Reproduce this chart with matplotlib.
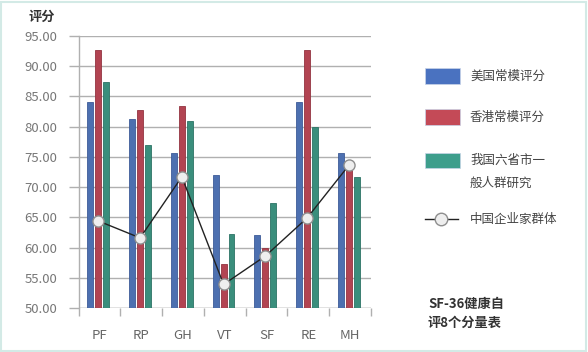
import matplotlib
matplotlib.use("Agg")
import matplotlib.pyplot as plt
from matplotlib.patches import Rectangle
from matplotlib.lines import Line2D
import numpy as np

plt.rcParams['font.family'] = ['Noto Sans CJK SC', 'DejaVu Sans']

categories = ["PF", "RP", "GH", "VT", "SF", "RE", "MH"]
us_norm = [84.0, 81.2, 75.6, 72.0, 62.0, 84.0, 75.6]
hk_norm = [92.7, 82.8, 83.4, 57.2, 59.9, 92.7, 73.6]
cn_six = [87.4, 77.0, 81.0, 62.3, 67.4, 80.0, 71.6]
entrepreneurs = [64.4, 61.6, 71.7, 53.9, 58.6, 64.9, 73.6]
yticks = [50, 55, 60, 65, 70, 75, 80, 85, 90, 95]

series_names = ["美国常模评分", "香港常模评分", "我国六省市一\n般人群研究", "中国企业家群体"]
bar_colors = ["#4d70b0", "#b24452", "#3a8e7c"]
bar_edges = ["#3d5c98", "#933440", "#2c7365"]
legend_colors = ["#4a72c0", "#c44a57", "#3d9e8c"]

W, H = 588, 352
fig = plt.figure(figsize=(W / 100, H / 100), dpi=100)
fig.patch.set_facecolor("white")

x0, x1, yb, yt = 78.7, 371, 308, 36
ax = fig.add_axes([x0 / W, 1 - yb / H, (x1 - x0) / W, (yb - yt) / H])
ax.set_facecolor("white")

x = np.arange(len(categories))
shift = -0.03
bw = 0.14
off = 0.19
for i, vals in enumerate([us_norm, hk_norm, cn_six]):
    ax.bar(x + shift + (i - 1) * off, np.array(vals) - 50, bottom=50, width=bw,
           color=bar_colors[i], edgecolor=bar_edges[i], linewidth=0.6, zorder=3)

ax.plot(x + shift, entrepreneurs, color="#222222", linewidth=1.0, zorder=4,
        marker="o", markersize=8, markerfacecolor="#eeeeee",
        markeredgecolor="#8e8e8e", markeredgewidth=1.0)

ax.set_xlim(-0.5, len(categories) - 0.5)
ax.set_ylim(50, 95)
ax.set_yticks(yticks)
ax.set_yticklabels([f"{v:.2f}" for v in yticks])
ax.set_xticks(x)
ax.set_xticklabels(categories)
ax.set_xticks(np.arange(len(categories) + 1) - 0.5, minor=True)

ax.grid(axis="y", color="#b0b0b0", linewidth=1.0, zorder=0)
for s in ["top", "right", "bottom"]:
    ax.spines[s].set_visible(False)
ax.spines["left"].set_color("#b0b0b0")
ax.spines["left"].set_linewidth(1.0)

ax.tick_params(axis="y", length=7, color="#b0b0b0", width=1.0, pad=8.5,
               labelsize=9.5, labelcolor="#777777")
ax.tick_params(axis="x", which="major", length=0, pad=15,
               labelsize=9.5, labelcolor="#666666")
ax.tick_params(axis="x", which="minor", length=6, color="#b0b0b0", width=1.0)
ax.axhline(50, color="#b0b0b0", linewidth=1.0, zorder=1)

fig.text(42 / W, 1 - 17 / H, "评分", fontsize=9.5, fontweight="bold",
         color="#333333", ha="center", va="center")

# legend
lx0, lx1 = 425, 460
patch_y = [76, 117, 160.5]
for i in range(3):
    fig.patches.append(Rectangle((lx0 / W, 1 - (patch_y[i] + 7.8) / H),
                                 (lx1 - lx0) / W, 15.6 / H,
                                 transform=fig.transFigure,
                                 facecolor=legend_colors[i], edgecolor="#c8d4e8",
                                 linewidth=0.5))
fig.text(470 / W, 1 - 76 / H, series_names[0], fontsize=9, color="#444444", va="center")
fig.text(470 / W, 1 - 117 / H, series_names[1], fontsize=9, color="#444444", va="center")
fig.text(470 / W, 1 - 160 / H, series_names[2].split("\n")[0], fontsize=9, color="#444444", va="center")
fig.text(470 / W, 1 - 183 / H, series_names[2].split("\n")[1], fontsize=9, color="#444444", va="center")
fig.lines.append(Line2D([lx0 / W, 458 / W], [1 - 219 / H, 1 - 219 / H],
                        transform=fig.transFigure, color="#222222", linewidth=1.0))
fig.lines.append(Line2D([441 / W], [1 - 219 / H], transform=fig.transFigure,
                        marker="o", markersize=9, markerfacecolor="#eeeeee",
                        markeredgecolor="#8e8e8e", markeredgewidth=1.0))
fig.text(470 / W, 1 - 219 / H, series_names[3], fontsize=9, color="#444444", va="center")

fig.text(428 / W, 1 - 304 / H, "SF-36健康自", fontsize=9.5, fontweight="bold",
         color="#333333", va="center")
fig.text(428 / W, 1 - 323 / H, "评8个分量表", fontsize=9.5, fontweight="bold",
         color="#333333", va="center")

fig.patches.append(Rectangle((0.5 / W, 1.5 / H), (W - 2.5) / W, (H - 3) / H,
                             transform=fig.transFigure, facecolor="none",
                             edgecolor="#d3eae6", linewidth=1.5))

fig.savefig("out.png", dpi=100)
